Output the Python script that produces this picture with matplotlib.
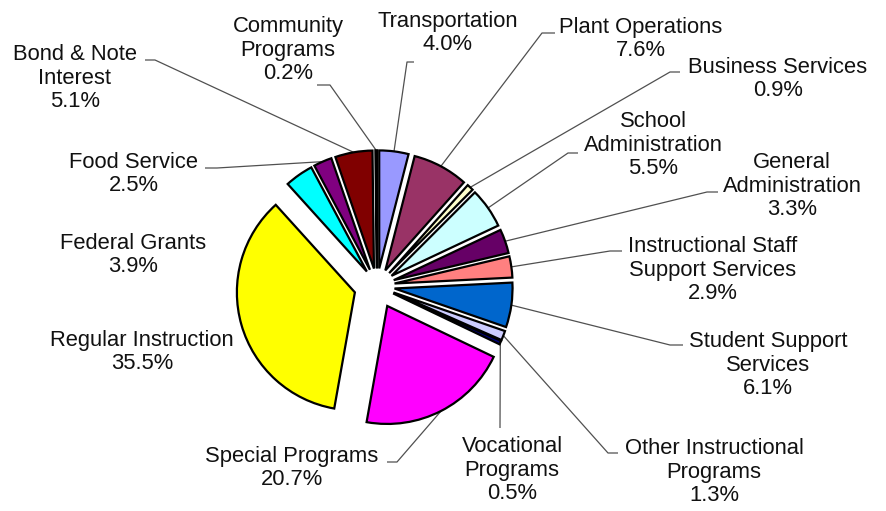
import matplotlib
matplotlib.use('Agg')
import matplotlib.pyplot as plt
import numpy as np

# ---- data ----
categories = ["Transportation", "Plant Operations", "Business Services",
              "School\nAdministration", "General\nAdministration",
              "Instructional Staff\nSupport Services", "Student Support\nServices",
              "Other Instructional\nPrograms", "Vocational\nPrograms",
              "Special Programs", "Regular Instruction", "Federal Grants",
              "Food Service", "Bond & Note\nInterest", "Community\nPrograms"]
values = [4.0, 7.6, 0.9, 5.5, 3.3, 2.9, 6.1, 1.3, 0.5, 20.7, 35.5, 3.9, 2.5, 5.1, 0.2]
colors = ['#9999FF', '#993366', '#FFFFCC', '#CCFFFF', '#660066', '#FF8080',
          '#0066CC', '#CCCCFF', '#000080', '#FF00FF', '#FFFF00', '#00FFFF',
          '#800080', '#800000', '#008080']
# explosion as a fraction of the radius
explode_frac = [0.15, 0.15, 0.15, 0.15, 0.15, 0.15, 0.15, 0.15, 0.15, 0.19, 0.195,
                0.15, 0.15, 0.15, 0.15]

# ---- layout (pixel coordinates, y measured from top) ----
W, H = 887, 511
center_px = (377, 286)
radius_px = 118
label_pos = [(448, 33), (641, 39), (778, 79), (653, 145), (792, 186),
             (713, 270), (768, 365), (714, 472), (512, 470), (292, 468),
             (142, 352), (133, 255), (134, 174), (75, 78), (288, 50)]
# leader line: (label-side end, elbow) ; None = no leader
leaders = [((414, 62), (407, 62)), ((555, 33), (542, 33)), ((680, 72), (670, 72)),
           ((578, 153), (568, 153)), ((718, 192), (707, 192)),
           ((622, 251), (610, 251)), ((683, 345), (670, 345)),
           ((618, 453), (608, 453)), ((500, 428), (500, 428)),
           ((387, 462), (397, 462)), None, None,
           ((205, 168), (217, 168)), ((145, 60), (155, 60)),
           ((317, 85), (330, 85))]

plt.rcParams['font.family'] = ['Liberation Sans', 'DejaVu Sans']

fig = plt.figure(figsize=(W / 100, H / 100), dpi=100)
ax = fig.add_axes([0, 0, 1, 1])

wedges, _ = ax.pie(values, explode=[e * radius_px for e in explode_frac],
                   colors=colors, startangle=90,
                   counterclock=False, center=(center_px[0], H - center_px[1]),
                   radius=radius_px,
                   wedgeprops=dict(edgecolor='black', linewidth=1.6))

ax.set_xlim(0, W)
ax.set_ylim(0, H)
ax.set_aspect('auto')
ax.axis('off')

for w, name, v, lp, ld in zip(wedges, categories, values, label_pos, leaders):
    ax.text(lp[0], H - lp[1], f"{name}\n{v:.1f}%", ha='center', va='center',
            multialignment='center', fontsize=15.8, color='#111111', linespacing=1.18)
    if ld is None:
        continue
    mid = np.deg2rad((w.theta1 + w.theta2) / 2)
    ax_x = w.center[0] + w.r * np.cos(mid)
    ax_y = w.center[1] + w.r * np.sin(mid)
    (x0, y0), (x1, y1) = ld
    ax.plot([x0, x1, ax_x], [H - y0, H - y1, ax_y], color='#505050', lw=0.9,
            solid_capstyle='butt', zorder=0)

fig.savefig('out.png', dpi=100)
